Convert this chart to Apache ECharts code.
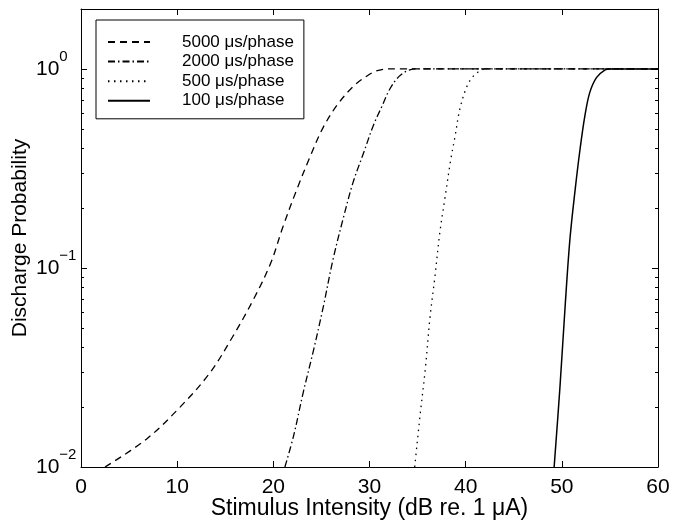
<!DOCTYPE html>
<html>
<head>
<meta charset="utf-8">
<script src="https://cdn.jsdelivr.net/npm/echarts@6/dist/echarts.min.js"></script>
<style>
html,body{margin:0;padding:0;background:#fff;}
#chart{width:673px;height:523px;}
</style>
</head>
<body>
<div id="chart"></div>
<script>
// ---- data ----
const seriesNames = ['5000 \u03bcs/phase', '2000 \u03bcs/phase', '500 \u03bcs/phase', '100 \u03bcs/phase'];

const x5000 = [2.5, 6.8, 10.3, 13.4, 15.8, 17.9, 19.7, 21.0, 22.4, 23.8, 25.2, 26.7, 28.3, 29.5, 30.7, 32.0, 60];
const p5000 = [0.01, 0.0138, 0.020, 0.0297, 0.0454, 0.069, 0.105, 0.161, 0.245, 0.36, 0.51, 0.665, 0.816, 0.906, 0.977, 1.0, 1.0];

const x2000 = [21.2, 22.1, 23.1, 24.2, 25.2, 26.2, 27.3, 28.3, 29.4, 30.4, 31.3, 32.1, 33.1, 34.2, 35.0, 60];
const p2000 = [0.01, 0.0143, 0.0236, 0.039, 0.064, 0.11, 0.18, 0.27, 0.38, 0.52, 0.65, 0.79, 0.92, 0.99, 1.0, 1.0];

const x500 = [34.7, 35.25, 35.8, 36.3, 36.8, 37.3, 37.85, 38.45, 38.9, 39.4, 40.1, 40.8, 41.7, 42.3, 60];
const p500 = [0.01, 0.018, 0.031, 0.057, 0.09, 0.149, 0.225, 0.35, 0.46, 0.63, 0.81, 0.92, 0.99, 1.0, 1.0];

const x100 = [49.2, 49.8, 50.35, 50.85, 51.4, 51.9, 52.4, 52.9, 53.6, 54.5, 55.0, 60];
const p100 = [0.01, 0.025, 0.065, 0.141, 0.251, 0.397, 0.582, 0.76, 0.905, 0.99, 1.0, 1.0];

const xTicks = [0, 10, 20, 30, 40, 50, 60];
const yMajor = [0.01, 0.1, 1];
const xMin = 0, xMax = 60, yMin = 0.01, yMax = 2;

// ---- chart ----
const FONT = 'Liberation Sans';
function pairs(xs, ys) { return xs.map((x, i) => [x, ys[i]]); }
function supLabel(v) {
  const e = Math.round(Math.log10(v));
  if (Math.abs(v - Math.pow(10, e)) > 1e-9 * Math.max(1, v)) return '';
  const s = e < 0 ? '\u2212' + Math.abs(e) : String(e);
  return '{b|10}{s|' + s + '}';
}

const chart = echarts.init(document.getElementById('chart'), null, {renderer: 'canvas'});

const lineStyles = [
  {type: [7, 5], width: 1.3},
  {type: [7, 3, 1.5, 3], width: 1.3},
  {type: [1.5, 4.5], width: 1.3},
  {type: 'solid', width: 1.5}
];
const datas = [pairs(x5000, p5000), pairs(x2000, p2000), pairs(x500, p500), pairs(x100, p100)];

const option = {
  backgroundColor: '#fff',
  animation: false,
  textStyle: {fontFamily: FONT, color: '#000'},
  grid: {left: 81, right: 15, top: 9, bottom: 56, containLabel: false, outerBoundsMode: 'none'},
  legend: {
    show: true,
    orient: 'vertical',
    left: 96, top: 20,
    padding: [13.5, 10, 9.5, 11],
    itemWidth: 42, itemHeight: 15, itemGap: 2.6,
    borderColor: '#000', borderWidth: 1,
    backgroundColor: '#fff',
    data: seriesNames,
    itemStyle: {opacity: 0, borderWidth: 0},
    formatter: n => '{t|' + n + '}',
    textStyle: {
      fontFamily: FONT, color: '#000', fontSize: 17,
      rich: {t: {fontFamily: FONT, fontSize: 17, color: '#000', lineHeight: 15, padding: [0, 0, 0, 27]}}
    },
    selectedMode: false
  },
  xAxis: [{
    type: 'value', min: xMin, max: xMax, interval: 10, position: 'bottom',
    axisLine: {show: true, onZero: false, lineStyle: {color: '#000', width: 1}},
    axisTick: {show: true, inside: true, length: 6, lineStyle: {color: '#000'}},
    axisLabel: {show: true, margin: 10, fontSize: 21, fontFamily: FONT, color: '#000',
      formatter: v => xTicks.indexOf(v) >= 0 ? String(v) : ''},
    splitLine: {show: false},
    name: 'Stimulus Intensity (dB re. 1 \u03bcA)', nameLocation: 'middle', nameGap: 30,
    nameMoveOverlap: false,
    nameTextStyle: {fontSize: 23, fontFamily: FONT, color: '#000'}
  }, {
    type: 'value', min: xMin, max: xMax, interval: 10, position: 'top',
    axisLine: {show: true, onZero: false, lineStyle: {color: '#000', width: 1}},
    axisTick: {show: true, inside: true, length: 6, lineStyle: {color: '#000'}},
    axisLabel: {show: false}, splitLine: {show: false}
  }],
  yAxis: [{
    type: 'log', logBase: 10, min: yMin, max: yMax, position: 'left',
    axisLine: {show: true, onZero: false, lineStyle: {color: '#000', width: 1}},
    axisTick: {show: true, inside: true, length: 6, lineStyle: {color: '#000'}},
    axisLabel: {show: true, margin: 45, align: 'left', fontFamily: FONT, color: '#000', formatter: supLabel,
      rich: {
        b: {fontSize: 21, fontFamily: FONT, color: '#000', height: 40, lineHeight: 40, verticalAlign: 'middle'},
        s: {fontSize: 15, fontFamily: FONT, color: '#000', height: 15, lineHeight: 15, verticalAlign: 'top'}
      }},
    splitLine: {show: false}, minorTick: {show: false},
    name: 'Discharge Probability', nameLocation: 'middle', nameGap: 50, nameRotate: 90,
    nameMoveOverlap: false,
    nameTextStyle: {fontSize: 21, fontFamily: FONT, color: '#000'}
  }, {
    type: 'log', logBase: 10, min: yMin, max: yMax, position: 'right',
    axisLine: {show: true, onZero: false, lineStyle: {color: '#000', width: 1}},
    axisTick: {show: true, inside: true, length: 6, lineStyle: {color: '#000'}},
    axisLabel: {show: false}, splitLine: {show: false}
  }],
  series: seriesNames.map((n, i) => ({
    name: n, type: 'line', xAxisIndex: 0, yAxisIndex: 0,
    data: datas[i], showSymbol: false, symbol: 'none',
    smooth: 0.35, clip: true,
    lineStyle: {color: '#000', width: lineStyles[i].width, type: lineStyles[i].type},
    itemStyle: {color: '#000'},
    z: 3
  }))
};
chart.setOption(option);

// minor ticks at 2..9 x 10^k on left and right edges (positions from the axis scale)
function addMinorTicks() {
  const xl = chart.convertToPixel({xAxisIndex: 0}, xMin);
  const xr = chart.convertToPixel({xAxisIndex: 0}, xMax);
  const els = [];
  yMajor.forEach(d => {
    for (let m = 2; m <= 9; m++) {
      const v = d * m;
      if (v >= yMax) continue;
      const y = Math.round(chart.convertToPixel({yAxisIndex: 0}, v)) + 0.5;
      els.push({type: 'line', silent: true, z: 10,
        shape: {x1: xl, y1: y, x2: xl + 3, y2: y}, style: {stroke: '#000', lineWidth: 1}});
      els.push({type: 'line', silent: true, z: 10,
        shape: {x1: xr, y1: y, x2: xr - 3, y2: y}, style: {stroke: '#000', lineWidth: 1}});
    }
  });
  chart.setOption({graphic: {elements: els}});
}
addMinorTicks();
</script>
</body>
</html>
